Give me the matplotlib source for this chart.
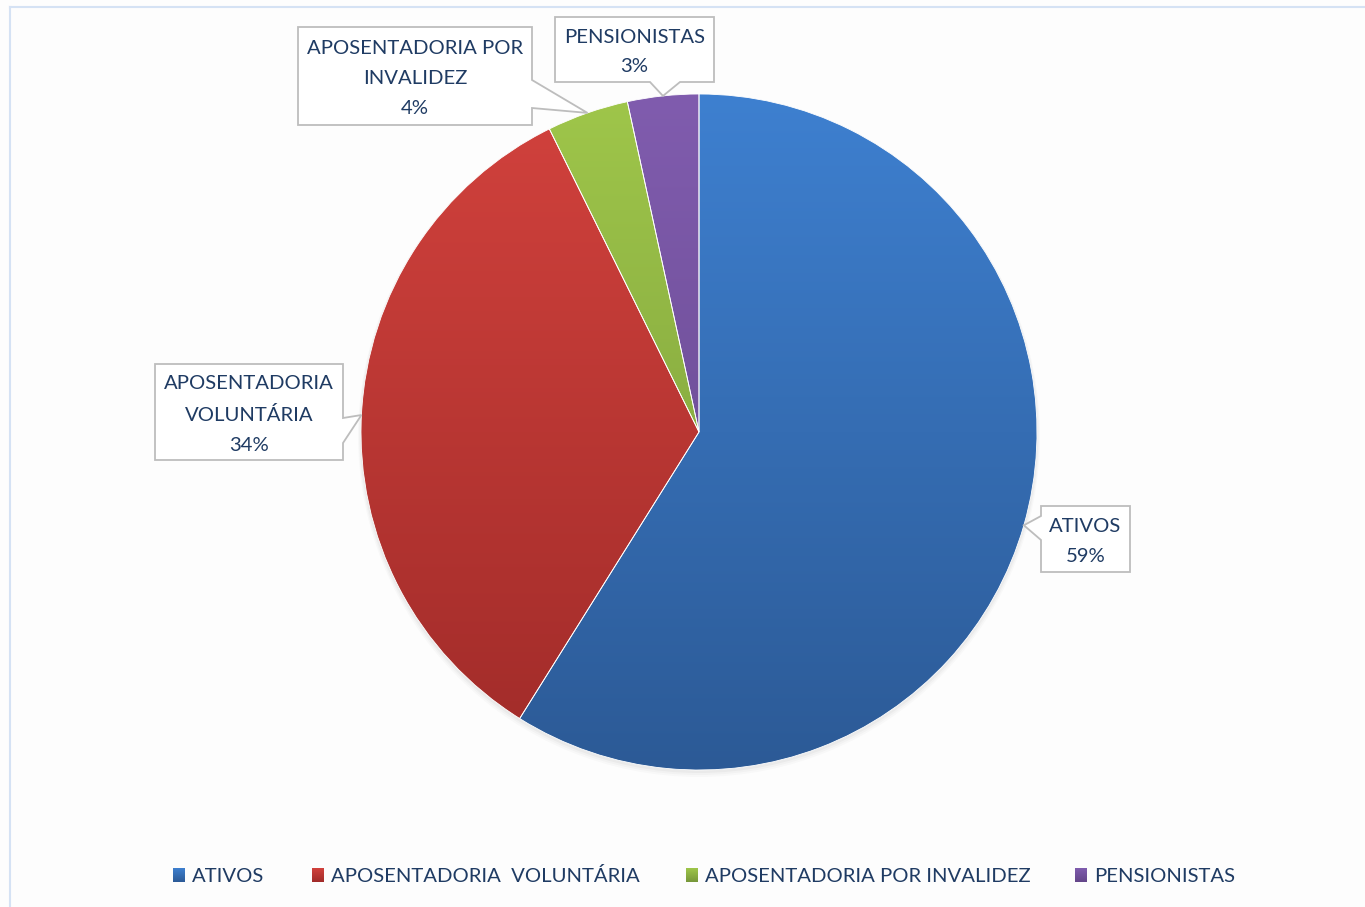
import numpy as np
import matplotlib
matplotlib.use("Agg")
import matplotlib.pyplot as plt
from matplotlib.patches import Polygon
from matplotlib.colors import LinearSegmentedColormap

# ---- data ----
categories = ["ATIVOS", "APOSENTADORIA VOLUNTÁRIA", "APOSENTADORIA POR INVALIDEZ", "PENSIONISTAS"]
legend_labels = ["ATIVOS", "APOSENTADORIA  VOLUNTÁRIA", "APOSENTADORIA POR INVALIDEZ", "PENSIONISTAS"]
callout_texts = ["ATIVOS", "APOSENTADORIA\nVOLUNTÁRIA", "APOSENTADORIA POR\nINVALIDEZ", "PENSIONISTAS"]
values = [58.9, 33.8, 3.9, 3.4]

# ---- style ----
top_colors = ["#3E80D0", "#D2423D", "#9FC64A", "#805CAE"]
bot_colors = ["#2C5A96", "#A02B29", "#76973A", "#634689"]
text_color = "#1F3B63"
font = ["Lato", "DejaVu Sans"]

W, H = 1365, 907
fig = plt.figure(figsize=(W / 100, H / 100), dpi=100)
fig.patch.set_facecolor("#FDFDFD")
ax = fig.add_axes([0, 0, 1, 1])
ax.set_xlim(0, W)
ax.set_ylim(0, H)
ax.set_aspect("equal")
ax.axis("off")

# border lines (chart area frame)
ax.plot([10, W], [H - 7, H - 7], color="#D5E2F4", lw=1.5)
ax.plot([10, 10], [0, H - 7], color="#D5E2F4", lw=1.5)

cx, cy, R = 699, H - 432, 338

# subtle shadow
for i, a in enumerate([0.03, 0.025, 0.02]):
    sh = plt.Circle((cx, cy - 2 - i), R + 1 + i, color="black", alpha=a, lw=0)
    ax.add_patch(sh)

wedges, _ = ax.pie(values, center=(cx, cy), radius=R, startangle=90,
                   counterclock=False, frame=True,
                   wedgeprops=dict(linewidth=0.6, edgecolor="white"))
ax.set_xlim(0, W)
ax.set_ylim(0, H)
ax.axis("off")

grad = np.linspace(0, 1, 256).reshape(-1, 1)
for w, c1, c2 in zip(wedges, top_colors, bot_colors):
    w.set_facecolor("none")
    cmap = LinearSegmentedColormap.from_list("g", [c2, c1])
    im = ax.imshow(grad, cmap=cmap, extent=[cx - R, cx + R, cy - R, cy + R],
                   origin="lower", aspect="auto", zorder=1.5, interpolation="bilinear")
    im.set_clip_path(w)
    w.set_zorder(2)

# callouts
total = sum(values)
pct_labels = [f"{round(v / total * 100):.0f}%" for v in values]
boxes = [  # x0, x1, y0 (top px), y1 (bottom px)
    (1041, 1130, 506, 572),
    (155, 343, 364, 460),
    (298, 532, 27, 125),
    (555, 714, 17, 82),
]
# pointer base on box side: (side, base1, base2)
pointers = [
    ("left", 516, 540),
    ("right", 418, 443),
    ("right", 80, 108),
    ("bottom", 650, 680),
]

cum = 0
for i, v in enumerate(values):
    mid = (cum + v / 2) / total * 360
    cum += v
    ang = np.deg2rad(90 - mid)
    tx, ty = cx + R * np.cos(ang), cy + R * np.sin(ang)
    x0, x1, t, b = boxes[i]
    y0, y1 = H - b, H - t
    side, p1, p2 = pointers[i]
    if side == "left":
        pts = [(x0, y1), (x1, y1), (x1, y0), (x0, y0), (x0, H - p2), (tx, ty), (x0, H - p1)]
    elif side == "right":
        pts = [(x0, y1), (x1, y1), (x1, H - p1), (tx, ty), (x1, H - p2), (x1, y0), (x0, y0)]
    else:
        pts = [(x0, y1), (x1, y1), (x1, y0), (p2, y0), (tx, ty), (p1, y0), (x0, y0)]
    ax.add_patch(Polygon(pts, closed=True, facecolor="white", edgecolor="#BDBDBD",
                         lw=1.3, zorder=5))
    ax.text((x0 + x1) / 2, (y0 + y1) / 2 - 2.5, callout_texts[i] + "\n" + pct_labels[i],
            ha="center", va="center", fontsize=14.6, color=text_color,
            family=font, linespacing=1.9, zorder=6)

# legend
leg_sq_x = [173, 312, 686, 1075]
leg_y = H - 875
for i, lab in enumerate(legend_labels):
    cmap = LinearSegmentedColormap.from_list("g", [bot_colors[i], top_colors[i]])
    ax.imshow(grad, cmap=cmap, extent=[leg_sq_x[i], leg_sq_x[i] + 12, leg_y - 7, leg_y + 7],
              origin="lower", aspect="auto", zorder=3)
    ax.text(leg_sq_x[i] + 19, leg_y - 1, lab, ha="left", va="center", fontsize=14.6,
            color=text_color, family=font)

ax.set_xlim(0, W)
ax.set_ylim(0, H)
fig.savefig("out.png", dpi=100, facecolor=fig.get_facecolor())
